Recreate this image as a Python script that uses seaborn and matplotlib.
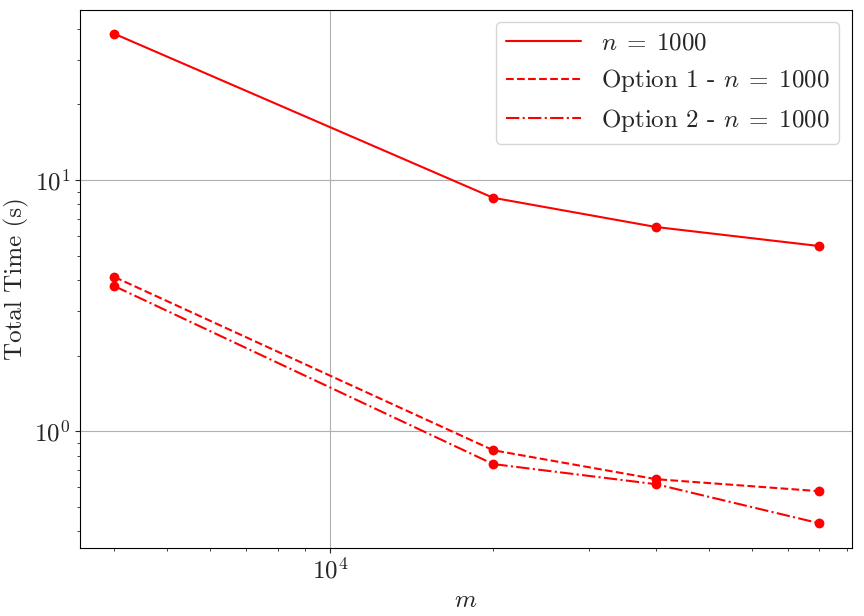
import matplotlib
matplotlib.use("Agg")
import matplotlib.pyplot as plt
import seaborn as sns
import pandas as pd

m_values = [4000, 20000, 40000, 80000]
base_times = [38.2, 8.5, 6.5, 5.46]
option1_times = [4.11, 0.84, 0.644, 0.577]
option2_times = [3.78, 0.74, 0.615, 0.43]

sns.set_style("ticks")
plt.rcParams["font.family"] = ["cmr10"]
plt.rcParams["mathtext.fontset"] = "cm"
plt.rcParams["axes.formatter.use_mathtext"] = True
plt.rcParams["axes.unicode_minus"] = False

series = [
    (r"$n \;=\; 1000$", base_times, "-"),
    (r"Option 1 - $n \;=\; 1000$", option1_times, "--"),
    (r"Option 2 - $n \;=\; 1000$", option2_times, "-."),
]

fig, ax = plt.subplots(figsize=(8.64, 6.16), dpi=100)
for label, vals, ls in series:
    df = pd.DataFrame({"m": m_values, "t": vals})
    sns.lineplot(data=df, x="m", y="t", ax=ax, color="red", linestyle=ls,
                 label=label)
    sns.scatterplot(data=df, x="m", y="t", ax=ax, color="red", s=50,
                    linewidth=0, legend=False)

ax.set_xscale("log")
ax.set_yscale("log")
ax.set_xlim(3460, 91900)
ax.set_ylim(0.342, 47.6)
ax.grid(True, which="major", color="#b0b0b0", linewidth=0.8)
ax.set_xlabel(r"$m$", fontsize=18)
ax.set_ylabel("Total Time (s)", fontsize=18)
ax.tick_params(axis="both", which="major", labelsize=18)
ax.legend(fontsize=18, loc="upper right", handlelength=3, fancybox=True)
for s in ax.spines.values():
    s.set_color("black")
fig.subplots_adjust(left=0.093, right=0.986, top=0.984, bottom=0.110)
fig.savefig("out.png", dpi=100)
